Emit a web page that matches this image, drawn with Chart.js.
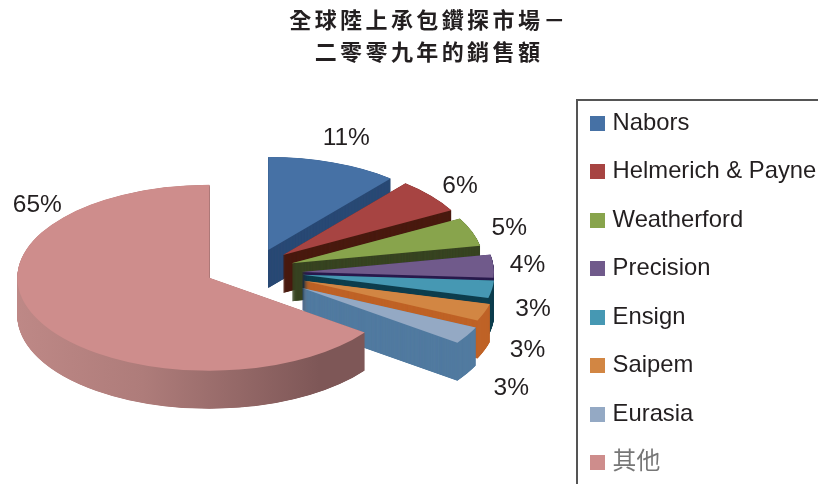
<!DOCTYPE html>
<html lang="zh-Hant">
<head>
<meta charset="utf-8">
<style>html,body{margin:0;padding:0;background:#fff}#w{width:818px;height:484px;position:relative}</style>
<script src="https://cdn.jsdelivr.net/npm/chart.js@4"></script>
</head>
<body>
<div id="w"><canvas id="c" width="818" height="484"></canvas></div>
<script>
const titleLines = ['全球陸上承包鑽探市場－', '二零零九年的銷售額'];
const categories = ['Nabors', 'Helmerich & Payne', 'Weatherford', 'Precision', 'Ensign', 'Saipem', 'Eurasia', '其他'];
const shares = [11, 6, 5, 4, 3, 3, 3, 65];
const topColors = ['#4671A5', '#A74442', '#88A44C', '#705A8B', '#4698B3', '#D28643', '#94A9C4', '#CE8D8C'];
const wallColors = ['#2A4A75', '#4A1B10', '#384422', '#2A1B4D', '#0F3F4E', '#BF6327', '#527BA0', null];
const explode = [45, 39, 41, 49, 50, 54, 57, 49];
const tilt = [0.5, -3, 0, 3.5, 1, 2, 4, -3];
const labelNudge = [[13,-23.5],[29,-12],[37,-4],[34,3],[41,21],[43,40],[44,57],[-1,-118]];
const TEXT = '#231F20', FONT = '"Liberation Sans","Noto Sans CJK TC",sans-serif';
const PIE = {cx: 253, cy: 270, k: 0.484, depth: 38, radius: 192};

function swatch(color) {
  const s = document.createElement('canvas');
  s.width = 15; s.height = 15;
  const g = s.getContext('2d');
  g.fillStyle = color; g.fillRect(0, 0, 15, 15);
  return s;
}

const pie3d = {
  id: 'pie3d',
  afterLayout(chart) {
    const lg = chart.legend;
    const w = lg.right - lg.left, h = lg.bottom - lg.top;
    lg.left = 570; lg.right = lg.left + w;
    lg.top = 86.6; lg.bottom = lg.top + h;
    const tb = chart.titleBlock;
    if (!tb._wrapped) {
      const d = tb.draw;
      tb.draw = function () {
        const c = this.ctx, old = c.letterSpacing;
        c.save();
        c.translate(20, 0);
        c.letterSpacing = '3.4px'; d.call(this); c.letterSpacing = old;
        c.restore();
      };
      tb._wrapped = true;
    }
  },
  beforeDatasetsDraw(chart) {
    const ctx = chart.ctx, arcs = chart.getDatasetMeta(0).data;
    arcs.forEach((arc, i) => {
      const m = (arc.startAngle + arc.endAngle) / 2;
      const apply = () => {
        ctx.translate(PIE.cx, PIE.cy + tilt[i]);
        ctx.scale(1, PIE.k);
        ctx.translate(Math.cos(m) * explode[i] - arc.x, Math.sin(m) * explode[i] - arc.y);
      };
      let fill = wallColors[i];
      if (!fill) {
        const g = ctx.createLinearGradient(arc.x - PIE.radius - 50, 0, arc.x + 110, 0);
        g.addColorStop(0, '#C48D8B');
        g.addColorStop(0.5, '#AE7C7A');
        g.addColorStop(1, '#7E5757');
        fill = g;
      }
      const wall = Object.create(arc);
      wall.options = Object.create(arc.options);
      wall.options.backgroundColor = fill;
      for (let d = PIE.depth; d > 0; d -= 0.25) {
        ctx.save();
        ctx.translate(0, d);
        apply();
        wall.draw(ctx);
        ctx.restore();
      }
      ctx.save();
      apply();
      arc.draw(ctx);
      ctx.restore();
    });
    return false;
  },
  afterDraw(chart) {
    const ctx = chart.ctx, arcs = chart.getDatasetMeta(0).data;
    ctx.save();
    ctx.font = '24.5px ' + FONT;
    ctx.fillStyle = TEXT;
    ctx.textAlign = 'center';
    ctx.textBaseline = 'middle';
    arcs.forEach((arc, i) => {
      const m = (arc.startAngle + arc.endAngle) / 2, r = explode[i] + PIE.radius;
      const x = PIE.cx + Math.cos(m) * r + labelNudge[i][0];
      const y = PIE.cy + Math.sin(m) * r * PIE.k + labelNudge[i][1];
      ctx.fillText(shares[i] + '%', x, y);
    });
    ctx.strokeStyle = '#555';
    ctx.lineWidth = 2;
    ctx.beginPath();
    ctx.moveTo(818, 100);
    ctx.lineTo(577, 100);
    ctx.lineTo(577, 484);
    ctx.stroke();
    ctx.restore();
  }
};

new Chart(document.getElementById('c'), {
  type: 'pie',
  data: {
    labels: categories,
    datasets: [{
      data: shares,
      backgroundColor: topColors,
      borderWidth: 0
    }]
  },
  options: {
    responsive: false,
    animation: false,
    radius: PIE.radius,
    rotation: 0,
    plugins: {
      tooltip: {enabled: false},
      title: {
        display: true,
        text: titleLines,
        color: TEXT,
        font: {family: '"Noto Sans CJK TC",sans-serif', size: 22, weight: '700', lineHeight: 1.45},
        padding: {top: 4, bottom: 0}
      },
      legend: {
        position: 'right',
        align: 'start',
        labels: {
          font: {family: FONT, size: 23.8},
          color: TEXT,
          padding: 24.7,
          usePointStyle: true,
          pointStyleWidth: 6,
          boxHeight: 15,
          generateLabels(chart) {
            return categories.map((name, i) => ({
              text: name,
              fillStyle: topColors[i],
              strokeStyle: topColors[i],
              lineWidth: 0,
              pointStyle: swatch(topColors[i]),
              fontColor: i === categories.length - 1 ? '#777' : TEXT,
              index: i
            }));
          }
        }
      }
    }
  },
  plugins: [pie3d]
});
</script>
</body>
</html>
